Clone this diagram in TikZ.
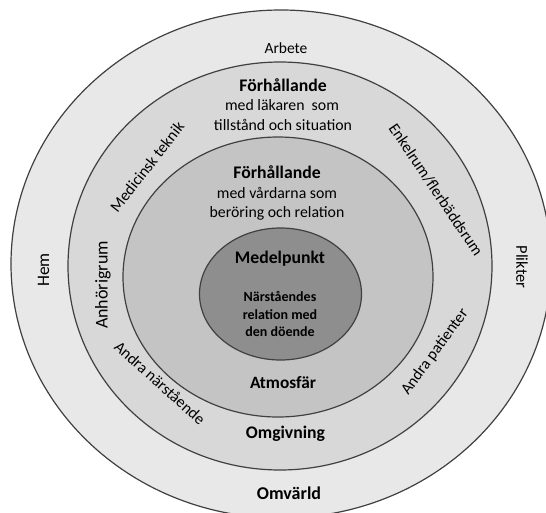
\documentclass[tikz,border=0pt]{standalone}
\usepackage{fontspec}
\setmainfont{Carlito}
\usetikzlibrary{positioning}

\definecolor{ringA}{HTML}{E8E8E8}
\definecolor{ringB}{HTML}{D8D8D8}
\definecolor{ringC}{HTML}{C4C4C4}
\definecolor{core}{HTML}{8E8E8E}
\definecolor{rim}{HTML}{404040}

\begin{document}
\begin{tikzpicture}[x=1pt, y=-1pt,
    ring/.style={draw=rim, line width=1.2pt},
    txt/.style={font=\fontsize{15.8}{20}\selectfont, inner sep=0pt},
    head/.style={font=\fontsize{17.7}{20}\selectfont\bfseries, inner sep=0pt},
    side/.style={font=\fontsize{16}{18}\selectfont, inner sep=0pt}]
    \clip (0,0) rectangle (546,512);

    % zones from outside in
    \filldraw[ring, fill=ringA] (281,264) ellipse [x radius=270, y radius=254];
    \filldraw[ring, fill=ringB] (280,266) ellipse [x radius=212, y radius=204];
    \filldraw[ring, fill=ringC] (278,277) ellipse [x radius=155, y radius=140];
    \filldraw[ring, fill=core] (280.5,294) ellipse [x radius=81, y radius=66];

    % outer world
    \node[side, font=\fontsize{15.5}{18}\selectfont] (arbete) at (286,48) {Arbete};
    \node[side, font=\fontsize{17.5}{18}\selectfont, rotate=90] (hem) at (43.5,270) {Hem};
    \node[side, font=\fontsize{16.5}{18}\selectfont, rotate=-90] (plikter) at (522,267) {Plikter};
    \node[head, font=\fontsize{18}{20}\selectfont\bfseries] (omvarld) at (289,493) {Omvärld};

    % surroundings
    \node[head] (forh1) at (283,85) {Förhållande};
    \node[txt] (lakare) at (282,105) {med läkaren\ \ som};
    \node[txt] (tillstand) at (283,125) {tillstånd och situation};
    \node[side, rotate=52] (teknik) at (147,167) {Medicinsk teknik};
    \node[side, rotate=-56] (enkelrum) at (436,190) {Enkelrum/flerbäddsrum};
    \node[side, font=\fontsize{18}{18}\selectfont, rotate=90] (anhorig) at (103,285) {Anhörigrum};
    \node[side, rotate=-42] (narstaende) at (160,383) {Andra närstående};
    \node[side, rotate=54] (patienter) at (435,352) {Andra patienter};
    \node[head] (omgivning) at (285.5,434) {Omgivning};

    % atmosphere
    \node[head] (forh2) at (277,172) {Förhållande};
    \node[txt] (vardare) at (277,193) {med vårdarna som};
    \node[txt] (beroring) at (277,213) {beröring och relation};
    \node[head, font=\fontsize{17.3}{20}\selectfont\bfseries] (atmosfar) at (283,383) {Atmosfär};

    % centre
    \node[head] (medelpunkt) at (280,259) {Medelpunkt};
    \node[txt, align=center, font=\fontsize{14}{17.5}\selectfont\bfseries] (relation) at (280,314) {Närståendes\\relation med\\den döende};
\end{tikzpicture}
\end{document}
